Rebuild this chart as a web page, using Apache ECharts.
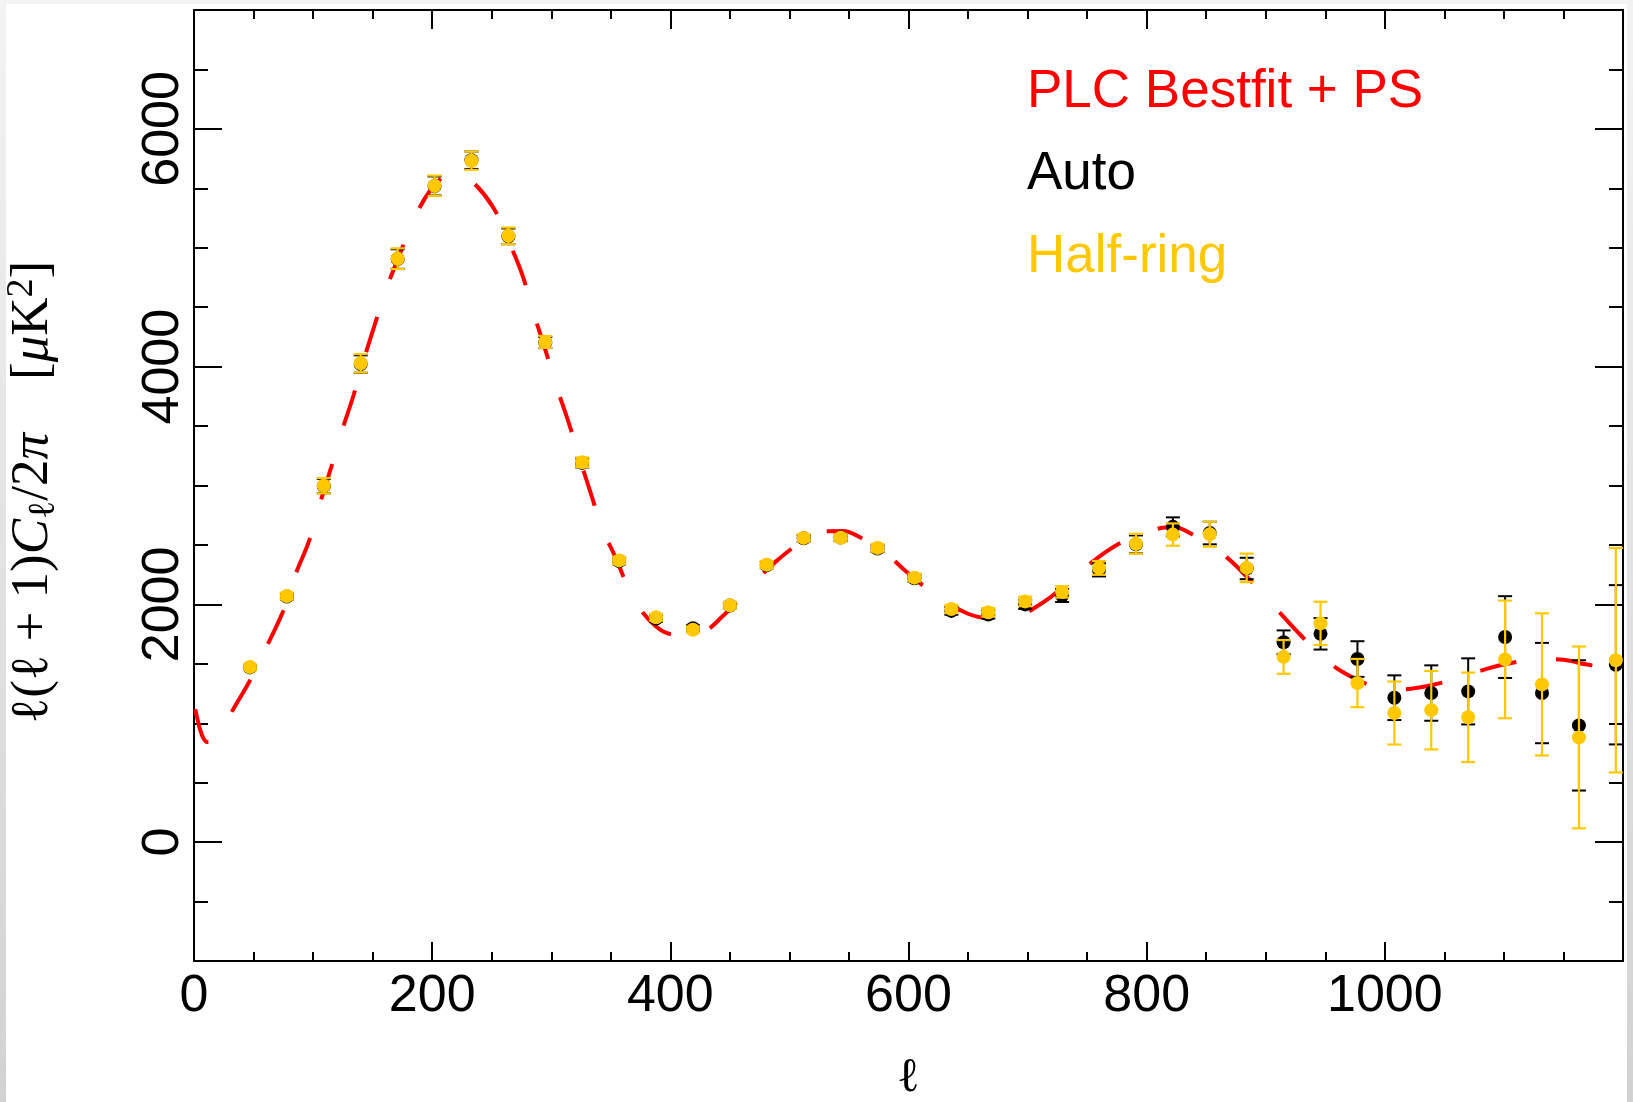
<!DOCTYPE html>
<html>
<head>
<meta charset="utf-8">
<script src="https://cdn.jsdelivr.net/npm/echarts@6/dist/echarts.min.js"></script>
<style>
  html, body { margin: 0; padding: 0; width: 1633px; height: 1102px; overflow: hidden;
    background: linear-gradient(#f3f3f3, #d2d2d2); }
  #chart { position: absolute; left: 6px; top: 4px; width: 1621px; height: 1098px; background: #ffffff; }
</style>
</head>
<body>
<div id="chart"></div>
<script>
// ---- data ----
const ELL = [47, 78, 109, 140, 171, 202, 233, 264, 295, 326, 357, 388, 419, 450, 481, 512, 543, 574, 605, 636, 667, 698, 729, 760, 791, 822, 853, 884, 915, 946, 977, 1008, 1039, 1070, 1101, 1132, 1163, 1194];
const HALF = [1473, 2070, 2998, 4028, 4908, 5522, 5732, 5100, 4208, 3195, 2370, 1891, 1787, 1992, 2334, 2559, 2560, 2475, 2225, 1961, 1933, 2025, 2105, 2307, 2510, 2587, 2590, 2307, 1558, 1840, 1338, 1086, 1110, 1050, 1537, 1327, 881, 1530];
const HALF_ERR = [22, 28, 64, 77, 87, 85, 77, 70, 50, 40, 30, 28, 26, 26, 28, 30, 32, 32, 32, 34, 36, 40, 48, 58, 83, 94, 105, 120, 142, 182, 203, 265, 330, 376, 495, 598, 765, 944];
const AUTO = [1470, 2066, 2995, 4022, 4905, 5520, 5736, 5096, 4203, 3190, 2365, 1880, 1800, 1990, 2330, 2556, 2562, 2470, 2220, 1945, 1915, 2000, 2075, 2290, 2505, 2652, 2600, 2302, 1681, 1752, 1540, 1215, 1254, 1268, 1725, 1254, 982, 1492];
const AUTO_ERR = [20, 26, 60, 73, 82, 80, 73, 66, 47, 38, 28, 26, 24, 24, 26, 28, 30, 30, 30, 32, 34, 38, 55, 55, 75, 80, 95, 90, 100, 132, 150, 188, 233, 278, 344, 422, 548, 670];
const MODEL_ELL = [1, 3, 5, 8, 11, 15, 20, 26, 32, 40, 47, 55, 62, 75, 85, 97, 106, 115, 124, 134, 143, 152, 162, 172, 185, 200, 210, 220, 231, 251, 266, 276, 285, 293, 304, 314, 326, 333, 343, 353, 369, 388, 405, 425, 445, 467, 489, 517, 532, 545, 560, 580, 598, 623, 650, 668, 683, 712, 735, 744, 777, 808, 822, 837, 865, 886, 909, 930, 953, 974, 995, 1011, 1041, 1072, 1100, 1133, 1150, 1164, 1180, 1191, 1200];
const MODEL_DL = [1118, 1030, 950, 872, 842, 845, 890, 975, 1100, 1237, 1360, 1510, 1666, 1946, 2245, 2545, 2857, 3147, 3453, 3759, 4071, 4360, 4666, 4924, 5249, 5507, 5600, 5640, 5584, 5343, 5014, 4763, 4451, 4209, 3845, 3549, 3160, 2941, 2633, 2417, 2057, 1813, 1745, 1762, 1911, 2143, 2364, 2569, 2615, 2617, 2560, 2437, 2277, 2078, 1921, 1882, 1879, 2010, 2192, 2276, 2512, 2632, 2650, 2596, 2414, 2212, 1961, 1734, 1512, 1380, 1300, 1285, 1324, 1417, 1494, 1540, 1535, 1505, 1470, 1422, 1392];
const X_LABELS = [0, 200, 400, 600, 800, 1000];
const Y_LABELS = [0, 2000, 4000, 6000];
const NAMES = ['PLC Bestfit + PS', 'Auto', 'Half-ring'];

// ---- styling ----
const RED = '#ff0000', BLACK = '#000000', GOLD = '#ffc800';
const SANS = 'Liberation Sans, Arial, Helvetica, sans-serif';
const SERIF = 'Liberation Serif, Times New Roman, serif';

const modelData = MODEL_ELL.map((l, i) => [l, MODEL_DL[i]]);
const halfData = ELL.map((l, i) => [l, HALF[i]]);
const autoData = ELL.map((l, i) => [l, AUTO[i]]);
const halfErr = ELL.map((l, i) => [l, HALF[i] - HALF_ERR[i], HALF[i] + HALF_ERR[i]]);
const autoErr = ELL.map((l, i) => [l, AUTO[i] - AUTO_ERR[i], AUTO[i] + AUTO_ERR[i]]);

function errBar(color, lw) {
  return function (params, api) {
    const x = api.value(0);
    const top = api.coord([x, api.value(2)]);
    const bot = api.coord([x, api.value(1)]);
    const w = 7;
    const st = { stroke: color, lineWidth: lw };
    return {
      type: 'group',
      children: [
        { type: 'line', shape: { x1: top[0], y1: top[1], x2: bot[0], y2: bot[1] }, style: st },
        { type: 'line', shape: { x1: top[0] - w, y1: top[1], x2: top[0] + w, y2: top[1] }, style: st },
        { type: 'line', shape: { x1: bot[0] - w, y1: bot[1], x2: bot[0] + w, y2: bot[1] }, style: st }
      ]
    };
  };
}

const axisLineStyle = { color: BLACK, width: 2 };
const tickStyle = { color: BLACK, width: 2 };
const plain = v => String(v);

function xAxisDef(pos, showLabel) {
  return {
    type: 'value', position: pos, min: 0, max: 1200, interval: 200,
    axisLine: { show: true, onZero: false, lineStyle: axisLineStyle },
    axisTick: { show: true, inside: true, length: 19, lineStyle: tickStyle },
    minorTick: { show: true, splitNumber: 4, length: 9, lineStyle: tickStyle },
    splitLine: { show: false },
    axisLabel: showLabel ? {
      show: true, customValues: X_LABELS, formatter: plain, fontSize: 52, fontFamily: SANS, color: BLACK, margin: 10
    } : { show: false }
  };
}
function yAxisDef(pos, longTicks, showLabel) {
  return {
    type: 'value', position: pos, min: -1000, max: 7000, interval: 500,
    axisLine: { show: !longTicks, onZero: false, lineStyle: axisLineStyle },
    axisTick: longTicks
      ? { show: true, inside: true, length: 28, customValues: Y_LABELS, lineStyle: tickStyle }
      : { show: true, inside: true, length: 14, lineStyle: tickStyle },
    splitLine: { show: false },
    axisLabel: showLabel ? {
      show: true, customValues: Y_LABELS, formatter: plain, rotate: 90, fontSize: 52, fontFamily: SANS, color: BLACK, margin: 4
    } : { show: false }
  };
}

const yMain = yAxisDef('left', false, true);
yMain.name = '{l|ℓ}{n|(}{l|ℓ}{n| + 1)}{i|C}{sub|ℓ}{n|/2}{i|π}{n|    [}{i|μ}{n|K}{sup|2}{n|]}';
yMain.nameLocation = 'middle';
yMain.nameRotate = 90;
yMain.nameGap = 131;
yMain.nameTextStyle = {
  color: BLACK, padding: [0, 13, 0, 0],
  rich: {
    n: { fontFamily: SERIF, fontSize: 53, lineHeight: 60, color: BLACK },
    l: { fontFamily: SERIF, fontSize: 53, lineHeight: 60, color: BLACK },
    i: { fontFamily: SERIF, fontSize: 53, fontStyle: 'italic', lineHeight: 60, color: BLACK },
    sub: { fontFamily: SERIF, fontSize: 38, lineHeight: 36, verticalAlign: 'bottom', color: BLACK },
    sup: { fontFamily: SERIF, fontSize: 38, lineHeight: 36, verticalAlign: 'top', color: BLACK }
  }
};

const xMain = xAxisDef('bottom', true);
xMain.name = 'ℓ';
xMain.nameLocation = 'middle';
xMain.nameGap = 93;
xMain.nameTextStyle = { fontFamily: SERIF, fontSize: 48, lineHeight: 48, color: BLACK };

const option = {
  animation: false,
  backgroundColor: '#ffffff',
  grid: { left: 188, right: 4, top: 6, bottom: 141, containLabel: false, outerBoundsMode: 'none' },
  xAxis: [xMain, xAxisDef('top', false)],
  yAxis: [yMain, yAxisDef('right', false, false), yAxisDef('left', true, false), yAxisDef('right', true, false)],
  legend: {
    orient: 'vertical', left: 1015, top: 58, padding: 0,
    itemWidth: 0, itemHeight: 0, itemGap: 22.5, selectedMode: false,
    textStyle: { fontSize: 53, fontFamily: SANS, lineHeight: 60 },
    data: [
      { name: NAMES[0], textStyle: { color: RED } },
      { name: NAMES[1], textStyle: { color: BLACK } },
      { name: NAMES[2], textStyle: { color: GOLD } }
    ]
  },
  series: [
    {
      name: NAMES[0], type: 'line', data: modelData, smooth: 0.4, showSymbol: false, z: 1,
      lineStyle: { color: RED, width: 4, type: [37, 40], cap: 'butt' },
      itemStyle: { color: RED }
    },
    {
      type: 'custom', renderItem: errBar(BLACK, 2), data: autoErr, z: 2,
      encode: { x: 0, y: [1, 2] }, silent: true
    },
    {
      name: NAMES[1], type: 'scatter', data: autoData, symbol: 'circle', symbolSize: 14, z: 3,
      itemStyle: { color: BLACK, opacity: 1 }
    },
    {
      type: 'custom', renderItem: errBar(GOLD, 2.2), data: halfErr, z: 4,
      encode: { x: 0, y: [1, 2] }, silent: true
    },
    {
      name: NAMES[2], type: 'scatter', data: halfData, symbol: 'circle', symbolSize: 14, z: 5,
      itemStyle: { color: GOLD, opacity: 1 }
    }
  ]
};

const chart = echarts.init(document.getElementById('chart'), null, { renderer: 'canvas' });
chart.setOption(option);
</script>
</body>
</html>
